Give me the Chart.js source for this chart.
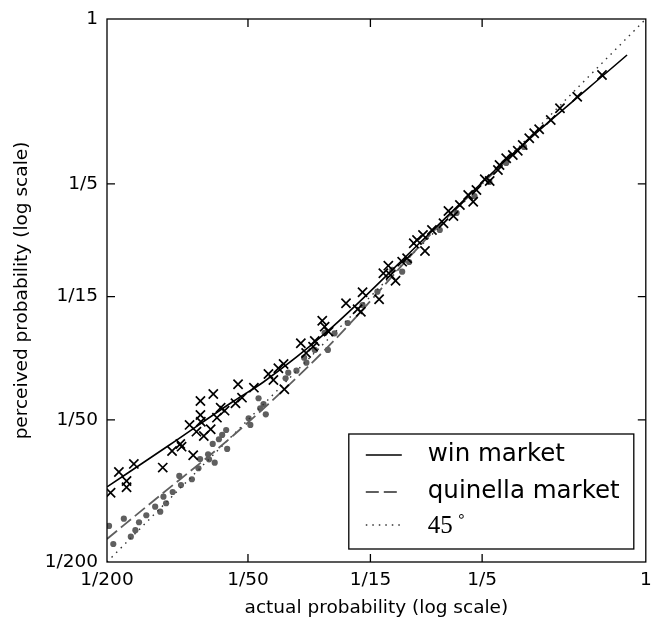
<!DOCTYPE html>
<html lang="en">
<head>
  <meta charset="UTF-8">
  <title>Perceived vs actual probability</title>
  <style>
    body { margin: 0; background: #fff; }
    #wrap { width: 654px; height: 630px; }
  </style>
</head>
<body>
  <div id="wrap"><canvas id="probChart"></canvas></div>

  <script src="https://cdn.jsdelivr.net/npm/chart.js"></script>
  <script>
    // ticks shared by both log axes
    const tickValues = [1/200, 1/50, 1/15, 1/5, 1];
    const tickLabels = ["1/200", "1/50", "1/15", "1/5", "1"];

    // win market (x markers)
    const winActual = [0.00518, 0.00562, 0.00606, 0.00606, 0.00651, 0.00865, 0.00948, 0.01028, 0.01041, 0.01126,
      0.01167, 0.01205, 0.01253, 0.01253, 0.01258, 0.01295, 0.01386, 0.01422, 0.01474, 0.01529,
      0.01589, 0.01769, 0.01814, 0.01886, 0.02120, 0.02446, 0.02568, 0.02697, 0.02839, 0.02859,
      0.03363, 0.03543, 0.03793, 0.03857, 0.04152, 0.04250, 0.04419, 0.05244, 0.05878, 0.06070,
      0.06171, 0.07261, 0.07572, 0.07950, 0.08130, 0.08535, 0.09111, 0.09564, 0.1021, 0.1054,
      0.1118, 0.1140, 0.1221, 0.1368, 0.1436, 0.1508, 0.1607, 0.1744, 0.1832, 0.1891,
      0.2052, 0.2154, 0.2336, 0.2373, 0.2534, 0.2704, 0.2839, 0.2981, 0.3179, 0.3337,
      0.3504, 0.3927, 0.4300, 0.5095, 0.6500];
    const winPerceived = [0.00983, 0.01204, 0.01102, 0.01037, 0.01302, 0.01256, 0.01477, 0.01582, 0.01541, 0.01905,
      0.01417, 0.01784, 0.02406, 0.02099, 0.01966, 0.01709, 0.01826, 0.02576, 0.02045, 0.02254,
      0.02189, 0.02353, 0.02832, 0.02485, 0.02740, 0.03131, 0.02954, 0.03311, 0.03452, 0.02697,
      0.04224, 0.03843, 0.04088, 0.04321, 0.05267, 0.04968, 0.04732, 0.06242, 0.05887, 0.05750,
      0.06948, 0.06492, 0.08367, 0.09010, 0.08228, 0.07782, 0.09368, 0.09683, 0.1121, 0.1158,
      0.1216, 0.1040, 0.1276, 0.1362, 0.1536, 0.1463, 0.1628, 0.1796, 0.1682, 0.1886,
      0.2093, 0.2059, 0.2292, 0.2406, 0.2569, 0.2653, 0.2766, 0.2924, 0.3122, 0.3279,
      0.3408, 0.3733, 0.4183, 0.4686, 0.5790];

    // quinella market (grey dots)
    const quinActual = [0.00510, 0.00532, 0.00590, 0.00632, 0.00661, 0.00685, 0.00736, 0.00803, 0.00844, 0.00871,
      0.00894, 0.00954, 0.01018, 0.01035, 0.01152, 0.01229, 0.01249, 0.01351, 0.01364, 0.01414,
      0.01442, 0.01503, 0.01552, 0.01614, 0.01630, 0.02013, 0.02047, 0.02219, 0.02256, 0.02330,
      0.02383, 0.02895, 0.02972, 0.03222, 0.03473, 0.03552, 0.03857, 0.04250, 0.04388, 0.04685,
      0.05333, 0.06171, 0.07141, 0.08266, 0.09111, 0.09753, 0.1319, 0.1556, 0.1855, 0.2147,
      0.2534, 0.3019];
    const quinPerceived = [0.00711, 0.00596, 0.00763, 0.00640, 0.00682, 0.00737, 0.00789, 0.00858, 0.00817, 0.00946,
      0.00887, 0.00990, 0.01158, 0.01060, 0.01121, 0.01248, 0.01366, 0.01430, 0.01362, 0.01582,
      0.01318, 0.01656, 0.01727, 0.01813, 0.01507, 0.02033, 0.01905, 0.02471, 0.02240, 0.02336,
      0.02113, 0.03003, 0.03172, 0.03234, 0.03671, 0.03496, 0.03958, 0.04672, 0.03958, 0.04658,
      0.05150, 0.06139, 0.06990, 0.08640, 0.08496, 0.09340, 0.1276, 0.1507, 0.1778, 0.2039,
      0.2454, 0.2869];

    const winFitActual = [0.005, 0.00924, 0.01740, 0.02330, 0.04388, 0.1162, 0.2609, 0.8316];
    const winFitPerceived = [0.01040, 0.01566, 0.02406, 0.02896, 0.04764, 0.1204, 0.2602, 0.7037];
    const quinFitActual = [0.005, 0.00798, 0.01740, 0.04388, 0.1244, 0.3563];
    const quinFitPerceived = [0.00626, 0.00916, 0.01727, 0.04076, 0.1264, 0.3452];

    // 45 degree reference
    const diagActual = [0.005, 1];
    const diagPerceived = [0.005, 1];

    const pts = (xs, ys) => xs.map((x, i) => ({ x, y: ys[i] }));

    const GREY = "#5f5f5f";
    const FONT = "'DejaVu Sans', sans-serif";

    function setTicks(scale) {
      scale.ticks = tickValues.map(v => ({ value: v }));
    }

    // frame, inward tick marks and the legend box, matplotlib style
    const framePlugin = {
      id: "frame",
      afterDraw(chart) {
        const { ctx, chartArea: a, scales } = chart;
        ctx.save();
        ctx.strokeStyle = "#000";
        ctx.lineWidth = 1.3;
        ctx.strokeRect(a.left, a.top, a.right - a.left, a.bottom - a.top);

        const tl = 8;
        ctx.beginPath();
        tickValues.slice(1, -1).forEach(v => {
          const px = scales.x.getPixelForValue(v);
          ctx.moveTo(px, a.bottom); ctx.lineTo(px, a.bottom - tl);
          ctx.moveTo(px, a.top); ctx.lineTo(px, a.top + tl);
          const py = scales.y.getPixelForValue(v);
          ctx.moveTo(a.left, py); ctx.lineTo(a.left + tl, py);
          ctx.moveTo(a.right, py); ctx.lineTo(a.right - tl, py);
        });
        ctx.stroke();

        // legend
        const bx = a.right - 297, by = a.bottom - 128, bw = 285, bh = 115;
        ctx.fillStyle = "#fff";
        ctx.fillRect(bx, by, bw, bh);
        ctx.strokeRect(bx, by, bw, bh);

        const ds = chart.data.datasets;
        const rows = [
          { d: ds[1], text: "win market", y: by + 21 },
          { d: ds[2], text: "quinella market", y: by + 58 },
          { d: ds[3], text: null, y: by + 91 }
        ];
        rows.forEach(r => {
          ctx.beginPath();
          ctx.strokeStyle = r.d.borderColor;
          ctx.lineWidth = r.d.borderWidth;
          ctx.setLineDash(r.d.borderDash || []);
          ctx.moveTo(bx + 17, r.y);
          ctx.lineTo(bx + 53, r.y);
          ctx.stroke();
          ctx.setLineDash([]);
        });

        ctx.fillStyle = "#000";
        ctx.textBaseline = "middle";
        ctx.textAlign = "left";
        ctx.font = "24.5px " + FONT;
        ctx.fillText(rows[0].text, bx + 79, rows[0].y);
        ctx.fillText(rows[1].text, bx + 79, rows[1].y);
        ctx.font = "25px 'Liberation Serif', serif";
        ctx.fillText("45", bx + 79, rows[2].y + 1);
        const w45 = ctx.measureText("45").width;
        ctx.font = "15px 'DejaVu Sans', sans-serif";
        ctx.fillText("\u2218", bx + 79 + w45 + 4, rows[2].y - 8);
        ctx.restore();
      }
    };

    const ctx = document.getElementById("probChart").getContext("2d");
    new Chart(ctx, {
      type: "scatter",
      data: {
        datasets: [
          {
            label: "win",
            data: pts(winActual, winPerceived),
            pointStyle: "crossRot",
            pointRadius: 6.5,
            pointBorderColor: "#000",
            pointBorderWidth: 1.7,
            borderColor: "#000",
            showLine: false
          },
          {
            label: "win market",
            data: pts(winFitActual, winFitPerceived),
            showLine: true,
            pointRadius: 0,
            borderColor: "#000",
            borderWidth: 1.6,
            cubicInterpolationMode: "monotone"
          },
          {
            label: "quinella market",
            data: pts(quinFitActual, quinFitPerceived),
            showLine: true,
            pointRadius: 0,
            borderColor: GREY,
            borderWidth: 1.8,
            borderDash: [13, 5],
            cubicInterpolationMode: "monotone"
          },
          {
            label: "45",
            data: pts(diagActual, diagPerceived),
            showLine: true,
            pointRadius: 0,
            borderColor: "#333",
            borderWidth: 1.4,
            borderDash: [1.5, 5]
          },
          {
            label: "quinella",
            data: pts(quinActual, quinPerceived),
            pointStyle: "circle",
            pointRadius: 3.1,
            pointBackgroundColor: GREY,
            pointBorderWidth: 0,
            showLine: false
          }
        ]
      },
      options: {
        responsive: true,
        maintainAspectRatio: false,
        animation: false,
        layout: { padding: { top: 19, right: 3, left: 0, bottom: 0 } },
        plugins: {
          legend: { display: false },
          tooltip: { enabled: false }
        },
        scales: {
          x: {
            type: "logarithmic",
            position: "bottom",
            min: 1/200,
            max: 1,
            afterBuildTicks: setTicks,
            afterFit(scale) {
              scale.height = 68;
              scale.paddingLeft = 0;
              scale.paddingRight = 0;
            },
            grid: { display: false, drawTicks: false },
            border: { display: false },
            ticks: {
              autoSkip: false,
              maxRotation: 0,
              padding: 7,
              color: "#000",
              font: { family: FONT, size: 18.5 },
              callback: (v, i) => tickLabels[i]
            },
            title: {
              display: true,
              text: "actual probability (log scale)",
              color: "#000",
              font: { family: FONT, size: 18.5 },
              padding: { top: 11, bottom: 11 }
            }
          },
          y: {
            type: "logarithmic",
            position: "left",
            min: 1/200,
            max: 1,
            afterBuildTicks: setTicks,
            afterFit(scale) {
              scale.width = 107;
              scale.paddingTop = 0;
              scale.paddingBottom = 0;
            },
            grid: { display: false, drawTicks: false },
            border: { display: false },
            ticks: {
              autoSkip: false,
              padding: 9,
              color: "#000",
              font: { family: FONT, size: 18.5 },
              callback: (v, i) => tickLabels[i]
            },
            title: {
              display: true,
              text: "perceived probability (log scale)",
              color: "#000",
              font: { family: FONT, size: 18.5 },
              padding: { top: 11, bottom: 11 }
            }
          }
        }
      },
      plugins: [framePlugin]
    });
  </script>
</body>
</html>
